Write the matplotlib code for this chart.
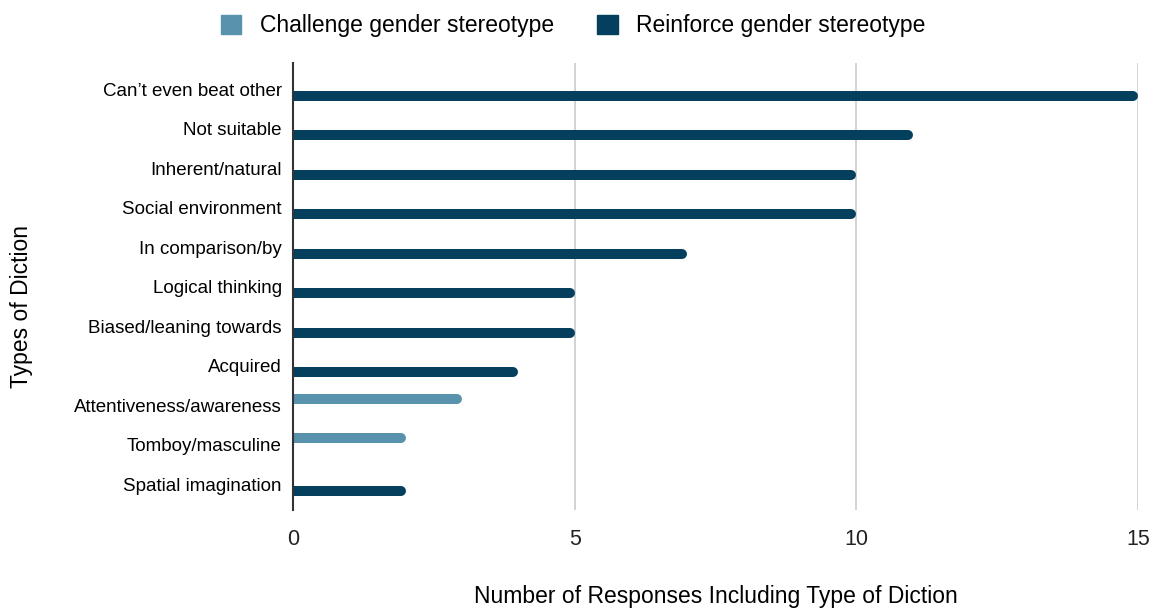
import matplotlib.pyplot as plt

categories = ['Can\u2019t even beat other', 'Not suitable', 'Inherent/natural',
              'Social environment', 'In comparison/by', 'Logical thinking',
              'Biased/leaning towards', 'Acquired', 'Attentiveness/awareness',
              'Tomboy/masculine', 'Spatial imagination']
challenge = [0, 0, 0, 0, 0, 0, 0, 0, 3, 2, 0]
reinforce = [15, 11, 10, 10, 7, 5, 5, 4, 0, 0, 2]
x_ticks = [0, 5, 10, 15]

C_CHAL = '#5992ad'
C_REIN = '#04405e'

plt.rcParams['font.family'] = ['Liberation Sans', 'DejaVu Sans']

fig = plt.figure(figsize=(11.53, 6.10), dpi=100)
ax = fig.add_axes([0.2541, 0.164, 0.987 - 0.2541, 0.8967 - 0.164])

pos = list(range(len(categories)))
off = 0.165
lw = 7.2          # bar thickness in points (~10 px)
r = 5 / 56.3      # half-thickness in data units, so round caps end at the value


def draw_series(vals, shift, color, label):
    ys = [p + shift for p in pos if vals[p] > 0]
    ends = [vals[p] - r for p in pos if vals[p] > 0]
    ax.hlines(ys, -1, ends, colors=color, linewidth=lw, capstyle='round',
              zorder=3, label=label)


draw_series(challenge, -off, C_CHAL, 'Challenge gender stereotype')
draw_series(reinforce, off, C_REIN, 'Reinforce gender stereotype')

ax.set_ylim(10.65, -0.67)
ax.set_xlim(0, 15)
ax.set_yticks(pos)
ax.set_yticklabels(categories, fontsize=13.5)
ax.set_xticks(x_ticks)
ax.set_xticklabels([str(t) for t in x_ticks], fontsize=15.5, color='#222222')
ax.tick_params(axis='both', length=0)
ax.tick_params(axis='x', pad=14)
ax.tick_params(axis='y', pad=8)

for s in ['top', 'right', 'bottom']:
    ax.spines[s].set_visible(False)
ax.spines['left'].set_color('#333333')
ax.spines['left'].set_linewidth(1.5)
ax.spines['left'].set_zorder(4)
ax.xaxis.grid(True, color='#cccccc', linewidth=1.2, zorder=0)

fig.text(0.6206, 1 - 597 / 610, 'Number of Responses Including Type of Diction',
         fontsize=16.5, ha='center', va='center')
fig.text(0.019, 0.497, 'Types of Diction', rotation=90, fontsize=16.5,
         ha='center', va='center')

handles = [plt.Rectangle((0, 0), 1, 1, color=C_CHAL),
           plt.Rectangle((0, 0), 1, 1, color=C_REIN)]
fig.legend(handles, ['Challenge gender stereotype', 'Reinforce gender stereotype'],
           loc='center', bbox_to_anchor=(0.497, 0.958), ncol=2, frameon=False,
           fontsize=16.5, handlelength=0.9, handleheight=0.9, columnspacing=1.9,
           handletextpad=0.8)

fig.savefig('out.png', dpi=100)
